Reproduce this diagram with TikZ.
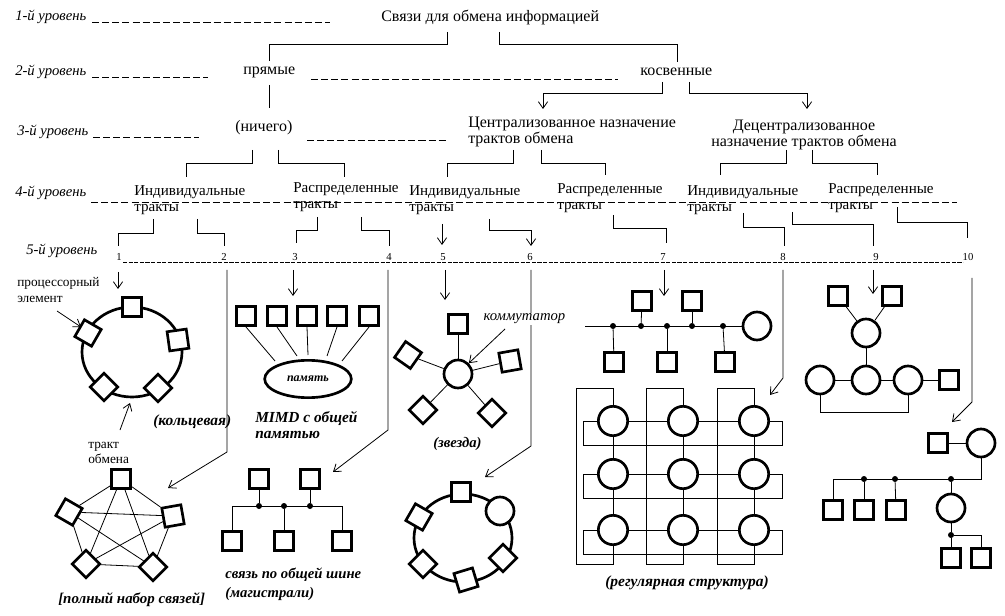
\documentclass[tikz,border=0pt]{standalone}
\usepackage{fontspec}
\setmainfont{Liberation Serif}
\usetikzlibrary{arrows.meta,shapes.geometric}
\begin{document}
\begin{tikzpicture}[x=0.75pt,y=-0.75pt,
  txt/.style={inner sep=0pt,anchor=west,align=left,font=\fontsize{12}{12}\selectfont},
  txf/.style={inner sep=0pt,anchor=west,align=left,font=\fontsize{11.3}{12}\selectfont},
  lvl/.style={inner sep=0pt,anchor=west,font=\fontsize{11}{13}\selectfont\itshape},
  num/.style={inner sep=0.6pt,fill=white,font=\fontsize{8}{9}\selectfont},
  lblbi/.style={inner sep=0pt,anchor=west,align=left,font=\fontsize{11.2}{12}\selectfont\bfseries\itshape},
  small/.style={inner sep=0pt,anchor=west,align=left,font=\fontsize{10}{12.5}\selectfont},
  dsh/.style={line width=0.6pt,dash pattern=on 5.3pt off 2.3pt},
  dshs/.style={line width=0.5pt,dash pattern=on 3.2pt off 1pt},
  ln/.style={line width=0.6pt},
  arr/.style={ln,-{Straight Barb[length=5pt,width=7pt]}},
  pe/.style={draw,line width=2pt,minimum size=14.5pt,inner sep=0pt,fill=white},
  sw/.style={draw,circle,line width=2pt,minimum size=21pt,inner sep=0pt,fill=white},
  swg/.style={sw,minimum size=22pt},
  dot/.style={circle,fill,inner sep=0pt,minimum size=4.5pt},
  thk/.style={line width=2pt},
]
\useasboundingbox (0,0) rectangle (1005,616);

% ---------- level 1
\node[lvl] (l1) at (15,17) {1-й уровень};
\draw[dsh] (92,22) -- (330,22);
\node[txt] (root) at (381,17) {Связи для обмена информацией};
\draw[ln] (447,32) -- (447,44) -- (269,44) -- (269,61);
\draw[ln] (499,32) -- (499,44) -- (677,44) -- (677,62);

% ---------- level 2
\node[lvl] (l2) at (15,72) {2-й уровень};
\draw[dsh] (92,77) -- (208,77);
\node[txt] (pr) at (243,72) {прямые};
\draw[dsh] (311,79) -- (618,79);
\node[txt] (kos) at (640,72) {косвенные};
\draw[ln] (269,85) -- (269,108);
\draw[arr] (662,82) -- (662,93) -- (543,93) -- (543,109);
\draw[arr] (689,82) -- (689,93) -- (807,93) -- (807,109);

% ---------- level 3
\node[lvl] (l3) at (17,132) {3-й уровень};
\draw[dsh] (93,137) -- (199,137);
\node[txt] (nich) at (235,128) {(ничего)};
\draw[dsh] (307,140) -- (447,140);
\node[txt] (centr) at (468,132) {Централизованное назначение\\трактов обмена};
\node[txt,anchor=center,align=center] (decentr) at (804,135) {Децентрализованное\\назначение трактов обмена};
\draw[ln] (252,150) -- (252,163) -- (186,163) -- (186,177);
\draw[ln] (278,150) -- (278,163) -- (344,163) -- (344,177);
\draw[ln] (513,150) -- (513,163) -- (447,163) -- (447,177);
\draw[ln] (541,150) -- (541,163) -- (605,163) -- (605,175);
\draw[ln] (786,150) -- (786,163) -- (720,163) -- (720,175);
\draw[ln] (812,150) -- (812,163) -- (877,163) -- (877,175);

% ---------- level 4
\node[lvl] (l4) at (15,193) {4-й уровень};
\draw[dsh] (91,202) -- (957,202);
\node[txf] (ind1) at (134,200) {Индивидуальные\\тракты};
\node[txf] (ras1) at (293,197) {Распределенные\\тракты};
\node[txf] (ind2) at (409,200) {Индивидуальные\\тракты};
\node[txf] (ras2) at (557,198) {Распределенные\\тракты};
\node[txf] (ind3) at (687,200) {Индивидуальные\\тракты};
\node[txf] (ras3) at (828,198) {Распределенные\\тракты};
\draw[ln] (153,219) -- (153,233) -- (118,233) -- (118,246);
\draw[ln] (197,219) -- (197,233) -- (224,233) -- (224,246);
\draw[ln] (317,217) -- (317,230) -- (296,230) -- (296,243);
\draw[ln] (361,217) -- (361,230) -- (389,230) -- (389,246);
\draw[arr] (442,224) -- (442,245);
\draw[arr] (489,219) -- (489,230) -- (531,230) -- (531,246);
\draw[ln] (613,215) -- (613,228) -- (666,228) -- (666,243);
\draw[ln] (743,213) -- (743,227) -- (784,227) -- (784,246);
\draw[ln] (792,212) -- (792,224) -- (873,224) -- (873,246);
\draw[ln] (897,207) -- (897,222) -- (967,222) -- (967,238);

% ---------- level 5
\node[lvl] (l5) at (26,251) {5-й уровень};
\draw[dshs] (123,262) -- (963,262);
\foreach \n/\x in {1/119,2/224,3/295,4/389,5/443,6/530,7/663,8/783,9/876,10/968}
  \node[num] (n\n) at (\x,257) {\n};

\draw[arr] (118,272) -- (118,289);
\draw[arr] (227,270) -- (227,452) -- (168,488);
\draw[arr] (293,270) -- (293,296);
\draw[arr] (388,270) -- (388,430) -- (333,472);
\draw[arr] (445,270) -- (445,300);
\draw[arr] (531,270) -- (531,446) -- (485,477);
\draw[arr] (664,270) -- (664,296);
\draw[arr] (783,270) -- (783,378) -- (770,395);
\draw[arr] (873,270) -- (873,294);
\draw[arr] (972,278) -- (972,402) -- (952,422);

% ---------- ring (1)
\draw[thk] (132,352) ellipse [x radius=37.5pt, y radius=33.75pt];
\node[pe] (r1) at (132,307) {};
\node[pe,rotate=-30] (r2) at (88,333) {};
\node[pe,rotate=8] (r3) at (178,340) {};
\node[pe,rotate=45] (r4) at (104,387) {};
\node[pe,rotate=45] (r5) at (158,388) {};
\node[small] (pel) at (17,290) {процессорный\\элемент};
\coordinate (pelA) at (57,311);
\draw[arr] (pelA) -- (81,327);
\coordinate (trA) at (120,430);
\draw[arr] (trA) -- (130,403);
\node[lblbi,font=\fontsize{11.6}{12}\selectfont\bfseries\itshape] (ringl) at (153,422) {(кольцевая)};

% ---------- complete graph (2)
\node[pe] (c1) at (121,479) {};
\node[pe,rotate=-30] (c2) at (69,512) {};
\node[pe,rotate=10] (c3) at (173,516) {};
\node[pe,rotate=45] (c4) at (86,564) {};
\node[pe,rotate=45] (c5) at (153,567) {};
\foreach \a/\b in {c1/c2,c1/c3,c1/c4,c1/c5,c2/c3,c2/c4,c2/c5,c3/c4,c3/c5,c4/c5}
  \draw[ln] (\a) -- (\b);
\node[small,font=\fontsize{10}{11}\selectfont] (trl) at (88,453) {тракт\\обмена};
\node[lblbi] (fulll) at (58,600) {[полный набор связей]};

% ---------- MIMD (3)
\node[draw,ellipse,line width=2pt,minimum width=65pt,minimum height=28pt,inner sep=0pt,
  font=\fontsize{9}{10}\selectfont\bfseries\itshape] (mem) at (308,379) {память};
\foreach \i/\x/\e in {1/246/{275,361},2/277/{297,356},3/307/{308,355},4/337/{327,356},5/369/{342,361}}{
  \node[pe] (m\i) at (\x,316) {};
  \draw[ln] (m\i.south) -- (\e);
}
\node[lblbi,font=\fontsize{11.5}{12}\selectfont\bfseries\itshape] (mimdl) at (255,425) {MIMD с общей\\памятью};

% ---------- bus (4)
\node[pe] (bt1) at (259,479) {};
\node[pe] (bt2) at (310,479) {};
\coordinate (busL) at (232,506);
\coordinate (busR) at (342,506);
\draw[ln] (busL) -- (busR);
\node[dot] (bd1) at (259,506) {};
\node[dot] (bd2) at (284,506) {};
\node[dot] (bd3) at (310,506) {};
\node[pe] (bb1) at (232,541) {};
\node[pe] (bb2) at (284,541) {};
\node[pe] (bb3) at (342,541) {};
\draw[ln] (bt1) -- (bd1);
\draw[ln] (bt2) -- (bd3);
\draw[ln] (busL) -- (bb1);
\draw[ln] (bd2) -- (bb2);
\draw[ln] (busR) -- (bb3);
\node[lblbi,font=\fontsize{11}{14}\selectfont\bfseries\itshape] (busl) at (225,584) {связь по общей шине\\(магистрали)};

% ---------- star (5)
\node[sw] (sc) at (458,374) {};
\node[pe] (s1) at (458,324) {};
\node[pe,rotate=-35] (s2) at (408,355) {};
\node[pe,rotate=10] (s3) at (510,361) {};
\node[pe,rotate=45] (s4) at (423,410) {};
\node[pe,rotate=45] (s5) at (492,413) {};
\foreach \s in {s1,s2,s3,s4,s5} \draw[ln] (sc) -- (\s);
\node[inner sep=1pt,anchor=west,fill=white,font=\fontsize{11}{12}\selectfont\itshape] (komm) at (482,319) {коммутатор};
\draw[arr] (505,329) -- (sc.north east);
\node[lblbi,font=\fontsize{11}{12}\selectfont\bfseries\itshape] (starl) at (433,444) {(звезда)};

% ---------- ring with switch (6)
\draw[thk] (463,538) ellipse [x radius=36.75pt, y radius=33pt];
\node[pe] (b1) at (461,492) {};
\node[pe,rotate=-30] (b2) at (419,517) {};
\node[pe,rotate=45] (b3) at (423,564) {};
\node[pe,rotate=17] (b4) at (466,580) {};
\node[pe,rotate=45] (b5) at (503,558) {};
\node[sw] (bc) at (500,511) {};

% ---------- bus with switch (7)
\node[sw] (rc0) at (757,326) {};
\coordinate (tbL) at (585,326);
\draw[ln] (tbL) -- (rc0);
\foreach \i/\x in {1/613,2/641,3/667,4/692,5/723} \node[dot] (td\i) at (\x,326) {};
\node[pe] (tq1) at (642,301) {};
\node[pe] (tq2) at (692,301) {};
\node[pe] (tq3) at (614,362) {};
\node[pe] (tq4) at (667,362) {};
\node[pe] (tq5) at (725,362) {};
\draw[ln] (td2) -- (tq1);
\draw[ln] (td4) -- (tq2);
\draw[ln] (td1) -- (tq3);
\draw[ln] (td3) -- (tq4);
\draw[ln] (td5) -- (tq5);

% ---------- regular structure (8)
\foreach \c/\x in {1/613,2/683,3/754}
  \foreach \r/\y in {1/421,2/474,3/530}
    \node[swg] (g\c\r) at (\x,\y) {};
\foreach \r/\y in {1/421,2/474,3/530}{
  \draw[ln] (g1\r) -- (g2\r) -- (g3\r);
  \draw[ln] (g3\r.east) -- (782,\y) -- (782,\y+24) -- (583,\y+24) -- (583,\y) -- (g1\r.west);
}
\foreach \c/\x in {1/613,2/683,3/754}{
  \draw[ln] (g\c1) -- (g\c2) -- (g\c3);
  \draw[ln] (g\c1.north) -- (\x,388) -- (\x-37,388) -- (\x-37,564) -- (\x,564) -- (g\c3.south);
}
\node[lblbi,font=\fontsize{11.6}{12}\selectfont\bfseries\itshape] (regl) at (605,583) {(регулярная структура)};

% ---------- tree (9)
\node[sw] (t0) at (866,333) {};
\node[pe] (ta) at (838,296) {};
\node[pe] (tb) at (892,296) {};
\node[sw] (t1) at (820,380) {};
\node[sw] (t2) at (866,380) {};
\node[sw] (t3) at (908,380) {};
\node[pe] (t4) at (949,380) {};
\draw[ln] (t0) -- (ta);
\draw[ln] (t0) -- (tb);
\draw[ln] (t0) -- (t2);
\draw[ln] (t1) -- (t2);
\draw[ln] (t2) -- (t3);
\draw[ln] (t3) -- (t4);
\draw[ln] (t1.south) -- (820,412) -- (908,412) -- (t3.south);

% ---------- hierarchical bus (10)
\node[pe] (u0) at (938,443) {};
\node[sw] (u1) at (981,443) {};
\draw[ln] (u0) -- (u1);
\node[pe] (u2) at (833,510) {};
\node[dot] (ud1) at (864,479) {};
\node[dot] (ud2) at (895,479) {};
\node[dot] (ud3) at (951,479) {};
\draw[ln] (u1.south) -- (981,479) -- (833,479) -- (u2.north);
\node[pe] (u3) at (864,510) {};
\node[pe] (u4) at (896,510) {};
\node[sw] (u5) at (951,508) {};
\node[dot] (ud4) at (951,535) {};
\node[pe] (u6) at (951,558) {};
\node[pe] (u7) at (981,558) {};
\draw[ln] (ud1) -- (u3);
\draw[ln] (ud2) -- (u4);
\draw[ln] (ud3) -- (u5);
\draw[ln] (u5) -- (ud4) -- (u6);
\draw[ln] (ud4) -- (981,535) -- (u7.north);
\end{tikzpicture}
\end{document}
